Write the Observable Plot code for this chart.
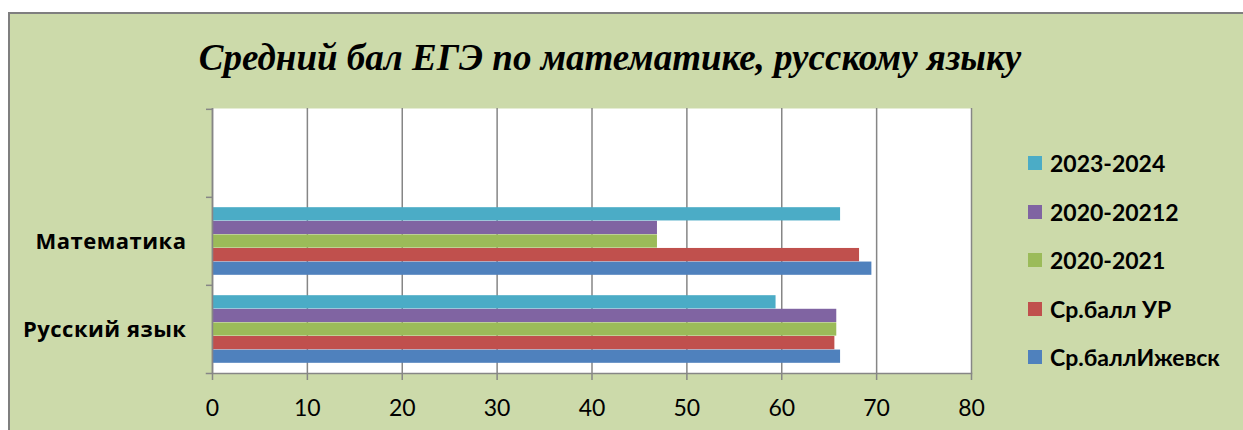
<!DOCTYPE html>
<html><head><meta charset="utf-8">
<script src="https://cdn.jsdelivr.net/npm/d3@7"></script>
<script src="https://cdn.jsdelivr.net/npm/@observablehq/plot@0.6"></script>
<style>
html,body{margin:0;padding:0;background:#fff;}
#wrap{position:relative;width:1243px;height:430px;overflow:hidden;}
#bg{position:absolute;left:8px;top:12px;width:1260px;height:440px;background:#ccdaaa;border:2px solid #7f7f7f;box-sizing:border-box;}
#title{position:absolute;left:0;width:1220px;top:39px;text-align:center;font:italic bold 37px "Liberation Serif",serif;line-height:37px;color:#000;white-space:nowrap;}
#plot{position:absolute;left:0;top:0;}
#legend{position:absolute;left:1028px;top:139px;font:bold 23px Lato,"Open Sans",sans-serif;color:#000;}
.item{height:48.5px;display:flex;align-items:center;white-space:nowrap;}
.sw{width:14px;height:14px;margin-right:8px;flex:none;}
.chart g[aria-label="y-axis tick label"] text{letter-spacing:0.5px;}
</style></head>
<body>
<div id="wrap">
  <div id="bg"></div>
  <div id="title">Средний бал ЕГЭ по математике, русскому языку</div>
  <div id="plot"></div>
  <div id="legend"></div>
</div>
<script>
// ---- data ----
const categories = ["", "Математика", "Русский язык"]; // top to bottom
const subjects = ["Математика", "Русский язык"];
const series = ["Ср.баллИжевск", "Ср.балл УР", "2020-2021", "2020-20212", "2023-2024"];
const colors = ["#4F81BD", "#C0504D", "#9BBB59", "#8064A2", "#4BACC6"];
const valuesIzhevsk = [69.5, 66.2];   // Математика, Русский язык
const valuesUR = [68.2, 65.6];
const values2020_2021 = [46.9, 65.8];
const values2020_20212 = [46.9, 65.8];
const values2023_2024 = [66.2, 59.4];
const xTicks = [0, 10, 20, 30, 40, 50, 60, 70, 80];

const seriesValues = [valuesIzhevsk, valuesUR, values2020_2021, values2020_20212, values2023_2024];
const rows = [];
series.forEach((s, k) => subjects.forEach((c, j) => rows.push({category: c, series: s, value: seriesValues[k][j]})));

// ---- layout ----
const W = 1243, H = 430, mL = 212, mR = 272, mT = 108, mB = 57;
const band = (H - mT - mB) / categories.length;
const gapWidth = 1.5;
const barH = band / (series.length + gapWidth);
const gapHalf = barH * gapWidth / 2;
const axisColor = "#868686";
const sans = "Lato, 'Open Sans', sans-serif";

const barMarks = series.map((s, k) => {
  const t = series.length - 1 - k; // position from top within band
  return Plot.barX(rows.filter(r => r.series === s), {
    x: "value", y: "category", fill: colors[k],
    insetTop: gapHalf + t * barH,
    insetBottom: band - gapHalf - (t + 1) * barH
  });
});

const chart = Plot.plot({
  width: W, height: H,
  marginLeft: mL, marginRight: mR, marginTop: mT, marginBottom: mB,
  className: "chart",
  style: {background: "transparent", overflow: "visible"},
  x: {domain: [0, 80]},
  y: {domain: categories, padding: 0},
  marks: [
    Plot.frame({fill: "white", stroke: null}),
    Plot.gridX({ticks: xTicks, stroke: axisColor, strokeOpacity: 1, strokeWidth: 1.5}),
    ...barMarks,
    Plot.ruleX([0], {stroke: axisColor, strokeWidth: 1.5}),
    Plot.ruleY(categories, {y: d => d, x1: 0, x2: 0, insetLeft: -6, dy: -band / 2, stroke: axisColor, strokeWidth: 1.5}),
    Plot.frame({anchor: "bottom", stroke: axisColor, strokeWidth: 1.5, insetLeft: -6}),
    Plot.axisX({ticks: xTicks, tickSize: 7, tickPadding: 19, stroke: axisColor, strokeWidth: 1.5, fill: "black",
      fontSize: 23, fontFamily: sans, label: null}),
    Plot.axisY({tickSize: 0, tickPadding: 26, fill: "black", fontSize: 22, fontWeight: "bold",
      fontFamily: "'Open Sans', sans-serif", label: null})
  ]
});
document.getElementById("plot").appendChild(chart);

// ---- legend ----
const legend = document.getElementById("legend");
series.slice().reverse().forEach((s) => {
  const k = series.indexOf(s);
  const item = document.createElement("div");
  item.className = "item";
  const sw = document.createElement("span");
  sw.className = "sw";
  sw.style.background = colors[k];
  const tx = document.createElement("span");
  tx.textContent = s;
  item.appendChild(sw); item.appendChild(tx);
  legend.appendChild(item);
});
</script>
</body></html>
